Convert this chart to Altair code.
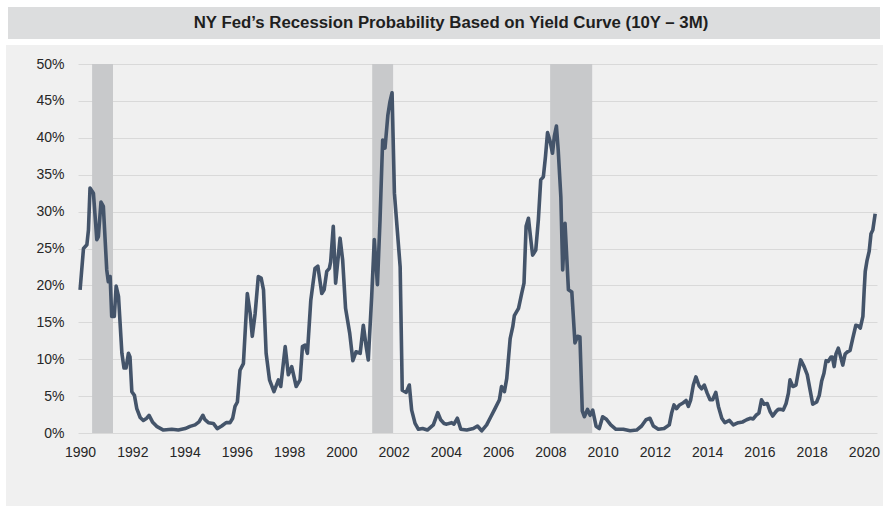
import altair as alt
import pandas as pd

# ---- data ----
years = [
    1990.00, 1990.13, 1990.26, 1990.32, 1990.38, 1990.51, 1990.64, 1990.70, 1990.80, 1990.89,
    1991.02, 1991.08, 1991.15, 1991.21, 1991.31, 1991.38, 1991.47, 1991.60, 1991.68, 1991.76,
    1991.85, 1991.91, 1991.98, 1992.08, 1992.17, 1992.30, 1992.42, 1992.55, 1992.64, 1992.77,
    1992.93, 1993.19, 1993.51, 1993.76, 1994.02, 1994.21, 1994.40, 1994.55, 1994.70, 1994.78,
    1994.91, 1995.10, 1995.25, 1995.42, 1995.59, 1995.74, 1995.84, 1995.93, 1996.02, 1996.12,
    1996.25, 1996.40, 1996.51, 1996.59, 1996.70, 1996.82, 1996.93, 1997.02, 1997.12, 1997.25,
    1997.42, 1997.59, 1997.68, 1997.85, 1997.97, 1998.10, 1998.27, 1998.42, 1998.51, 1998.61,
    1998.70, 1998.83, 1998.99, 1999.10, 1999.25, 1999.34, 1999.44, 1999.54, 1999.59, 1999.69,
    1999.78, 1999.95, 2000.05, 2000.16, 2000.32, 2000.44, 2000.56, 2000.72, 2000.84, 2000.95,
    2001.03, 2001.16, 2001.26, 2001.38, 2001.48, 2001.58, 2001.67, 2001.78, 2001.86, 2001.94,
    2002.03, 2002.14, 2002.25, 2002.33, 2002.48, 2002.60, 2002.69, 2002.82, 2002.95, 2003.11,
    2003.29, 2003.52, 2003.69, 2003.80, 2003.93, 2004.03, 2004.22, 2004.31, 2004.44, 2004.57,
    2004.80, 2005.05, 2005.21, 2005.37, 2005.56, 2005.72, 2005.88, 2006.05, 2006.13, 2006.24,
    2006.33, 2006.46, 2006.56, 2006.62, 2006.78, 2006.90, 2006.99, 2007.07, 2007.16, 2007.25,
    2007.32, 2007.44, 2007.54, 2007.63, 2007.73, 2007.81, 2007.89, 2007.99, 2008.08, 2008.15,
    2008.23, 2008.30, 2008.40, 2008.47, 2008.56, 2008.69, 2008.82, 2008.94, 2009.04, 2009.13,
    2009.22, 2009.30, 2009.42, 2009.52, 2009.62, 2009.75, 2009.87, 2010.00, 2010.13, 2010.31,
    2010.51, 2010.79, 2011.05, 2011.30, 2011.49, 2011.66, 2011.81, 2011.94, 2012.13, 2012.35,
    2012.55, 2012.64, 2012.73, 2012.83, 2012.94, 2013.09, 2013.19, 2013.28, 2013.37, 2013.47,
    2013.57, 2013.69, 2013.79, 2013.89, 2014.00, 2014.11, 2014.21, 2014.33, 2014.43, 2014.56,
    2014.68, 2014.85, 2015.00, 2015.19, 2015.36, 2015.51, 2015.66, 2015.76, 2015.87, 2015.98,
    2016.08, 2016.18, 2016.30, 2016.41, 2016.51, 2016.63, 2016.72, 2016.83, 2016.91, 2017.02,
    2017.11, 2017.17, 2017.28, 2017.40, 2017.49, 2017.58, 2017.71, 2017.83, 2017.94, 2018.04,
    2018.19, 2018.29, 2018.38, 2018.47, 2018.55, 2018.63, 2018.74, 2018.79, 2018.86, 2018.93,
    2019.02, 2019.11, 2019.19, 2019.28, 2019.37, 2019.47, 2019.57, 2019.69, 2019.79, 2019.86,
    2019.96, 2020.01, 2020.05, 2020.12, 2020.20, 2020.27, 2020.34, 2020.43,
]
probability = [
    19.4, 25.0, 25.5, 27.5, 33.2, 32.5, 26.2, 26.6, 31.3, 30.7,
    22.1, 20.5, 21.2, 15.8, 15.8, 19.9, 18.5, 10.8, 8.8, 8.8,
    10.8, 10.3, 5.6, 5.1, 3.3, 2.1, 1.7, 2.0, 2.4, 1.5,
    0.9, 0.4, 0.5, 0.4, 0.6, 0.9, 1.1, 1.5, 2.4, 1.8,
    1.4, 1.3, 0.6, 0.95, 1.4, 1.4, 2.0, 3.6, 4.2, 8.5,
    9.4, 18.9, 16.2, 13.1, 16.2, 21.2, 21.0, 19.4, 10.8, 7.2,
    5.6, 7.2, 6.3, 11.7, 7.9, 9.0, 6.3, 7.2, 11.7, 11.9,
    10.8, 18.0, 22.3, 22.6, 18.9, 19.4, 21.9, 22.3, 23.2, 28.0,
    20.3, 26.4, 23.4, 16.9, 13.5, 9.8, 11.0, 10.8, 14.6, 11.7,
    9.9, 18.5, 26.2, 20.1, 28.9, 39.7, 38.6, 43.1, 44.9, 46.1,
    32.5, 27.5, 22.5, 5.8, 5.5, 6.5, 3.1, 1.3, 0.5, 0.6,
    0.4, 1.1, 2.75, 1.8, 1.3, 1.2, 1.4, 1.2, 2.0, 0.5,
    0.4, 0.6, 0.95, 0.3, 1.1, 2.2, 3.3, 4.5, 6.3, 5.6,
    7.4, 12.8, 14.4, 15.9, 16.9, 18.9, 20.3, 28.0, 29.1, 26.2,
    24.1, 24.8, 28.9, 34.3, 34.7, 37.4, 40.7, 39.5, 37.9, 40.2,
    41.6, 38.3, 32.0, 22.1, 28.4, 19.4, 19.1, 12.2, 13.1, 13.0,
    3.0, 2.2, 3.2, 2.4, 3.1, 0.9, 0.6, 2.2, 1.9, 1.1,
    0.5, 0.5, 0.3, 0.4, 0.95, 1.8, 2.0, 0.95, 0.5, 0.6,
    1.1, 2.7, 3.8, 3.3, 3.8, 4.1, 4.4, 3.6, 4.5, 6.5,
    7.6, 6.4, 6.0, 6.5, 5.4, 4.5, 4.5, 5.5, 3.6, 2.0,
    1.4, 1.7, 1.1, 1.4, 1.5, 1.8, 2.0, 1.9, 2.4, 2.7,
    4.5, 3.9, 4.0, 2.9, 2.3, 2.9, 3.2, 3.2, 3.1, 4.0,
    5.4, 7.2, 6.3, 6.5, 8.3, 9.9, 9.0, 7.9, 5.8, 3.9,
    4.2, 5.1, 7.0, 8.1, 9.8, 9.7, 10.3, 10.3, 9.0, 10.7,
    11.5, 10.3, 9.2, 10.7, 11.0, 11.2, 12.8, 14.6, 14.5, 14.2,
    15.8, 19.4, 21.9, 23.4, 24.6, 27.0, 27.5, 29.7,
]

recession_start = [1990.46, 2001.18, 2007.99]
recession_end = [1991.26, 2001.98, 2009.60]

x_ticks = list(range(1990, 2021, 2))
y_ticks = [0, 5, 10, 15, 20, 25, 30, 35, 40, 45, 50]

title_text = "NY Fed\u2019s Recession Probability Based on Yield Curve (10Y \u2013 3M)"

df = pd.DataFrame({"year": years, "prob": probability})
rec = pd.DataFrame({"start": recession_start, "end": recession_end})
one = pd.DataFrame({"a": [0]})

W, H = 799, 369
FONT = "Liberation Sans"

xscale = alt.Scale(domain=[1989.92, 2020.5], nice=False, zero=False)
yscale = alt.Scale(domain=[0, 50], nice=False)

# decorative white page strips (outside plot) + title bar
left_strip = alt.Chart(one).mark_rect(color="white").encode(
    x=alt.value(-78), x2=alt.value(-72), y=alt.value(-64), y2=alt.value(H + 73)
)
top_strip = alt.Chart(one).mark_rect(color="white").encode(
    x=alt.value(-78), x2=alt.value(W + 6), y=alt.value(-64), y2=alt.value(-19)
)
title_bar = alt.Chart(one).mark_rect(color="#DCDDDE").encode(
    x=alt.value(-70), x2=alt.value(W + 3), y=alt.value(-57), y2=alt.value(-25)
)
title = alt.Chart(one).mark_text(
    text=title_text, font=FONT, fontSize=16.8, fontWeight="bold", color="#1f1f1f",
    align="center", baseline="middle"
).encode(x=alt.value(373), y=alt.value(-41))

bars = alt.Chart(rec).mark_rect(color="#C8C9CB").encode(
    x=alt.X("start:Q", scale=xscale,
            axis=alt.Axis(values=x_ticks, format="d", title=None, grid=False,
                          domain=False, ticks=False, labelFont=FONT, labelFontSize=14,
                          labelColor="#262626", labelPadding=12, labelOverlap=False,
                          labelBound=False, labelFlush=False)),
    x2="end:Q",
    y=alt.value(0),
    y2=alt.value(H),
)

line = alt.Chart(df).mark_line(color="#44546A", strokeWidth=3.6, strokeJoin="round").encode(
    x=alt.X("year:Q", scale=xscale),
    y=alt.Y("prob:Q", scale=yscale,
            axis=alt.Axis(values=y_ticks, labelExpr="datum.value + '%'", title=None,
                          grid=True, gridColor="#D9D9D9", gridWidth=1.2,
                          domain=False, ticks=False, labelFont=FONT, labelFontSize=14,
                          labelColor="#262626", labelPadding=14)),
)

chart = alt.layer(left_strip, top_strip, title_bar, title, bars, line).properties(
    width=W, height=H,
    background="#F0F0F0",
    padding={"left": 78, "top": 64, "right": 6, "bottom": 73},
    autosize=alt.AutoSizeParams(type="none"),
).configure_view(stroke=None, fill=None)

chart.save("out.html", embed_options={"renderer": "svg", "actions": False})
